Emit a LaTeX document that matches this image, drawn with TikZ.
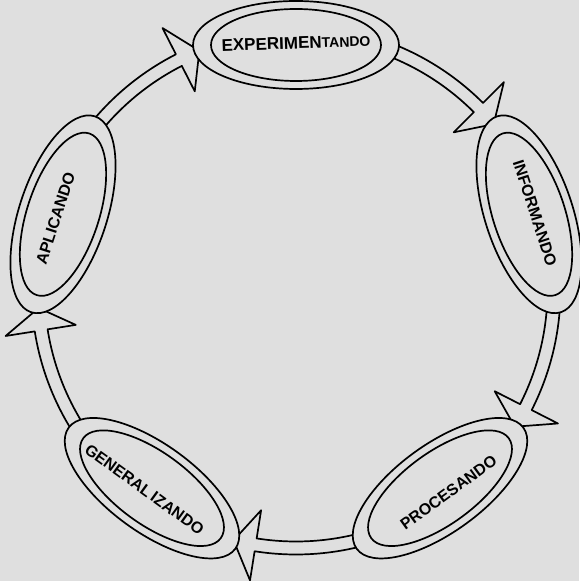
\documentclass[tikz,border=0pt]{standalone}
\usepackage{fontspec}
\setmainfont{Liberation Sans}
\usetikzlibrary{shapes.geometric,calc}
\definecolor{bg}{RGB}{223,223,223}
\begin{document}
\begin{tikzpicture}[x=1pt,y=1pt,
  ln/.style={line width=1.7pt, draw=black, line join=round},
  outerell/.style={ln, ellipse, fill=bg, inner sep=0pt, minimum width=206pt, minimum height=88pt},
  innerell/.style={ln, ellipse, inner sep=0pt, minimum width=170pt, minimum height=72pt},
  band/.style={ln, fill=bg},
  lbl/.style={font=\bfseries\fontsize{16}{16}\selectfont, inner sep=0pt}
]
\fill[bg] (0,0) rectangle (579,581);
\useasboundingbox (0,0) rectangle (579,581);
\coordinate (C) at (296,291);
% circular bands with arrowheads
\foreach \a in {90,18,-54,-126,-198}{
  \pgfmathsetmacro{\s}{\a-15}
  \pgfmathsetmacro{\e}{\a-45}
  \pgfmathsetmacro{\t}{\a-50}
  \draw[band] ($(C)+(\s:251.5)$) arc[start angle=\s, end angle=\e, radius=251.5]
    -- ($(C)+(\e:223)$) -- ($(C)+(\t:258)$) -- ($(C)+(\e:294)$) -- ($(C)+(\e:264.5)$)
    arc[start angle=\e, end angle=\s, radius=264.5] -- cycle;
}
% double ellipses
\foreach \a/\n in {90/exp,18/inf,-54/proc,-126/gen,162/apl}{
  \node[outerell, rotate=\a-90] (\n) at ($(C)+(\a:245)$) {};
  \node[innerell, rotate=\a-90] (\n i) at (\n) {};
}
% labels
\node[lbl, rotate=2] (texp) at (296,538) {\fontsize{17}{17}\selectfont EXPERIMEN\fontsize{14}{14}\selectfont TANDO};
\node[lbl, rotate=-72] (tinf) at (535,368) {INFORMANDO};
\node[lbl, rotate=36] (tproc) at (448.5,88.5) {PROCESANDO};
\node[lbl, rotate=-36] (tgen) at (144.5,91.5) {GENERAL\kern3pt IZANDO};
\node[lbl, rotate=72] (tapl) at (55.5,362.5) {APLICANDO};
\end{tikzpicture}
\end{document}
